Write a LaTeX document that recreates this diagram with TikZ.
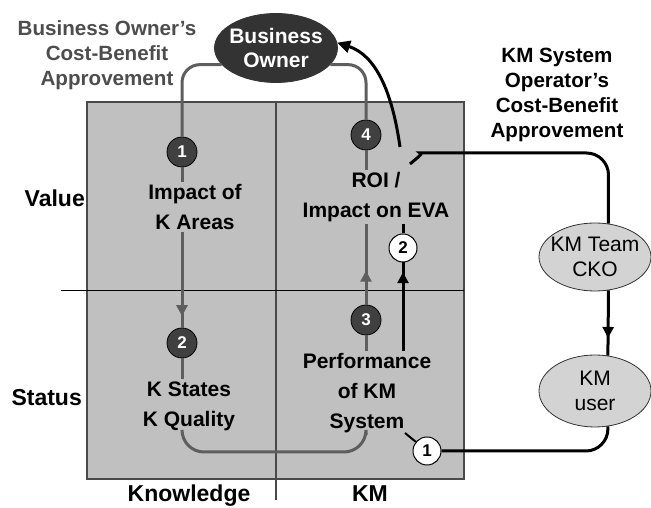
\documentclass[tikz,border=0pt]{standalone}
\usepackage{fontspec}
\setmainfont{Liberation Sans}
\usepackage{xcolor}
\usepackage{tikz}
\usetikzlibrary{shapes.geometric}
\usetikzlibrary{arrows.meta}
\usetikzlibrary{decorations.markings}

\definecolor{boxgray}{HTML}{C0C0C0}
\definecolor{framegray}{HTML}{4A4A4A}
\definecolor{linegray}{HTML}{5E5E5E}
\definecolor{notegray}{HTML}{4D4D4D}
\definecolor{dotgray}{HTML}{404040}
\definecolor{ownergray}{HTML}{333333}
\definecolor{actorgray}{HTML}{D3D3D3}

\begin{document}
\begin{tikzpicture}[x=1pt, y=1pt,
  field/.style={fill=boxgray, draw=framegray, line width=1.5pt},
  phase/.style={font=\bfseries\fontsize{21}{30}\selectfont, align=center, inner sep=2pt},
  axis/.style={font=\bfseries\fontsize{23}{27}\selectfont, inner sep=1pt},
  note/.style={font=\bfseries\fontsize{20.6}{25}\selectfont, align=center},
  dot/.style={circle, fill=dotgray, draw=black, line width=0.8pt, text=white, font=\bfseries\fontsize{17}{17}\selectfont, minimum size=30pt, inner sep=0pt},
  wdot/.style={circle, fill=white, draw=black, line width=1pt, font=\bfseries\fontsize{17}{17}\selectfont, minimum size=28pt, inner sep=0pt},
  actor/.style={ellipse, fill=actorgray, draw=black!80, line width=0.8pt, font=\fontsize{21}{25}\selectfont, align=center, inner xsep=-8pt, inner ysep=0pt, minimum width=112pt, minimum height=68pt},
  gline/.style={draw=linegray, line width=3pt, rounded corners=18pt},
  bline/.style={draw=black, line width=3pt, rounded corners=22pt},
  midarrow/.style={postaction={decorate}, decoration={markings, mark=at position #1 with {\arrow{Triangle[width=11pt,length=11pt]}}}}]
\useasboundingbox (0,0) rectangle (651,508);

% the four fields
\path[field] (87,29) rectangle (464,406);
\draw[draw=framegray, line width=1.2pt] (276,406) -- (276,8);
\draw[line width=1pt] (61,217) -- (464,217);

\node[axis, anchor=base east] (value) at (86,301) {Value};
\node[axis, anchor=base east] (status) at (83,102) {Status};
\node[axis, anchor=base] (knowledge) at (189,6) {Knowledge};
\node[axis, anchor=base] (kmAxis) at (370,6) {KM};

\node[note, text=notegray] (ownerNote) at (107,453) {Business Owner's\\Cost-Benefit\\Approvement};
\node[note] (operatorNote) at (557,413) {KM System\\Operator's\\Cost-Benefit\\Approvement};

\node[actor, fill=ownergray, text=white, font=\bfseries\fontsize{21}{24}\selectfont, minimum width=123pt, minimum height=69pt, inner xsep=-5pt] (owner) at (276,460) {Business\\Owner};
\node[actor] (kmTeam) at (595,251) {KM Team\\CKO};
\node[actor, minimum height=72pt] (kmUser) at (595,117) {KM\\user};

\node[phase] (impactK) at (195,301) {Impact of\\K Areas};
\node[phase] (kStates) at (189,102) {K States\\K Quality};
\node[phase] (roi) at (376,311) {ROI /\\Impact on EVA};
\node[phase] (perf) at (367,115) {Performance\\of KM\\System};

\node[dot] (n1) at (182,356) {1};
\node[dot] (n2) at (182,165) {2};
\node[dot] (n3) at (366,188) {3};
\node[dot] (n4) at (366,373) {4};
\node[wdot] (w2) at (403,260) {2};
\node[wdot] (w1) at (427,57) {1};

\coordinate (baseRun) at (0,56);
\coordinate (roiTop) at (400,361);
\coordinate (kmStart) at (410,344);
\coordinate (sysTip) at (405,75);

% business owner's loop
\draw[gline] (owner.197) -| (n1);
\draw[gline] (n1) -- (n1 |- impactK.north);
\draw[gline, midarrow=0.88] (n1 |- impactK.south) -- (n2);
\draw[gline] (n2) -- (n2 |- kStates.north);
\draw[gline, rounded corners=22pt] (n2 |- kStates.south) -- (n2 |- baseRun) -- (n3 |- baseRun) -- (n3 |- perf.south);
\draw[gline] (n3 |- perf.north) -- (n3);
\draw[gline, midarrow=0.42] (n3) -- (n3 |- roi.south);
\draw[gline] (n3 |- roi.north) -- (n4);
\draw[gline] (n4) |- (owner.-17);

% KM system operator's loop
\draw[bline, -{Triangle[width=12pt,length=13pt]}] (roiTop) .. controls (392,418) and (375,453) .. (owner.5);
\draw[bline] (kmStart) .. controls (417,350) and (424,355) .. (442,355) -| (kmTeam.68);
\draw[bline, midarrow=0.73] (kmTeam.-68) -- (kmUser.70);
\draw[bline] (kmUser.-70) |- (w1);
\draw[bline, line width=2pt] (w1) -- (sysTip);
\draw[bline] (w2) -- (w2 |- roi.south);
\draw[bline, midarrow=0.89] (w2 |- perf.north) -- (w2);
\end{tikzpicture}
\end{document}
